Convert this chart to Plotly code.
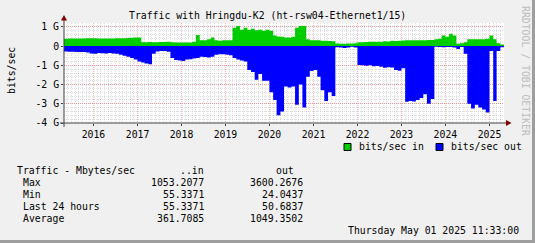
import pandas as pd
import plotly.graph_objects as go

# Monthly traffic, Gbit/s, May 2015 .. Apr 2025
in_gbps = [
    0.38, 0.40, 0.40, 0.40, 0.40, 0.40, 0.41, 0.41, 0.41, 0.40,
    0.40, 0.40, 0.40, 0.40, 0.41, 0.41, 0.41, 0.42, 0.43, 0.44,
    0.44, 0.20, 0.20, 0.21, 0.20, 0.20, 0.21, 0.21, 0.22, 0.20,
    0.18, 0.18, 0.18, 0.19, 0.19, 0.22, 0.58, 0.30, 0.30, 0.35,
    0.45, 0.30, 0.28, 0.30, 0.30, 0.30, 0.95, 1.05, 0.85, 0.95,
    0.85, 0.90, 0.82, 0.85, 0.80, 0.85, 0.80, 0.55, 0.50, 0.48,
    0.45, 0.45, 0.48, 0.95, 1.05, 1.05, 0.35, 0.30, 0.30, 0.30,
    0.28, 0.28, 0.27, 0.25, 0.13, 0.12, 0.12, 0.13, 0.14, 0.15,
    0.20, 0.20, 0.21, 0.22, 0.22, 0.23, 0.22, 0.25, 0.24, 0.28,
    0.27, 0.28, 0.29, 0.30, 0.30, 0.30, 0.30, 0.30, 0.30, 0.31,
    0.32, 0.35, 0.38, 0.55, 0.48, 0.64, 0.55, 0.12, 0.15, 0.20,
    0.35, 0.35, 0.36, 0.36, 0.36, 0.38, 0.55, 0.35, 0.15, 0.08,
]
out_gbps = [
    0.28, 0.30, 0.30, 0.31, 0.31, 0.31, 0.33, 0.38, 0.40, 0.36,
    0.37, 0.38, 0.36, 0.38, 0.40, 0.45, 0.50, 0.56, 0.62, 0.70,
    0.80, 0.86, 0.90, 0.95, 0.40, 0.28, 0.25, 0.26, 0.30, 0.62,
    0.72, 0.75, 0.78, 0.70, 0.68, 0.65, 0.62, 0.55, 0.57, 0.60,
    0.55, 0.45, 0.43, 0.42, 0.45, 0.48, 0.62, 0.70, 0.75, 0.80,
    1.25, 1.35, 1.75, 1.45, 1.80, 1.80, 2.40, 2.80, 3.60, 3.40,
    2.10, 2.15, 2.10, 3.05, 2.00, 3.20, 1.60, 1.30, 1.25, 1.60,
    2.30, 2.85, 2.40, 2.60, 0.06, 0.08, 0.10, 0.07, 0.03, 0.08,
    0.98, 1.00, 1.02, 1.00, 1.05, 1.03, 1.08, 1.13, 1.10, 1.12,
    1.25, 1.28, 1.15, 2.90, 2.85, 2.88, 2.80, 2.70, 2.50, 3.00,
    2.75, 0.03, 0.05, 0.06, 0.05, 0.05, 0.08, 0.15, 0.05, 0.40,
    3.00, 3.25, 3.05, 3.20, 3.30, 3.45, 0.25, 2.85, 0.25, 0.06,
]

y_tickvals = [-4, -3, -2, -1, 0, 1]
y_ticktext = ["-4 G", "-3 G", "-2 G", "-1 G", "0", "1 G"]

stat_rows = ["Max", "Min", "Last 24 hours", "Average"]
stat_in = ["1053.2077", "55.3371", "55.3371", "361.7085"]
stat_out = ["3600.2676", "24.0437", "50.6837", "1049.3502"]

title = "Traffic with Hringdu-K2 (ht-rsw04-Ethernet1/15)"
start = pd.Timestamp("2015-05-01 11:33")
end = pd.Timestamp("2025-05-01 11:33")

months = pd.date_range("2015-05-01", periods=len(in_gbps), freq="MS")
xs = list(months) + [end]
in_y = list(in_gbps) + [in_gbps[-1]]
out_y = [-v for v in out_gbps] + [-out_gbps[-1]]

W, H = 535, 243
L, R, T, B = 64, 31, 23, 120
PW, PH = W - L - R, H - T - B
FONT = "DejaVu Sans Mono"
FS = 9.8


def px(X):
    return (X - L) / PW


def py(Y):
    return (H - B - Y) / PH


fig = go.Figure()
fig.add_trace(go.Scatter(x=xs, y=in_y, mode="lines", line=dict(width=0, shape="hv"),
                         fill="tozeroy", fillcolor="#00CC00", name="bits/sec in",
                         showlegend=False, hoverinfo="skip"))
fig.add_trace(go.Scatter(x=xs, y=out_y, mode="lines", line=dict(width=0, shape="hv"),
                         fill="tozeroy", fillcolor="#0000FF", name="bits/sec out",
                         showlegend=False, hoverinfo="skip"))

major_grid = "rgba(255,0,0,0.32)"
minor_grid = "rgba(140,140,140,0.28)"

fig.update_layout(
    width=W, height=H, autosize=False,
    margin=dict(l=L, r=R, t=T, b=B, pad=0),
    paper_bgcolor="#F0F0F0", plot_bgcolor="#FFFFFF",
    font=dict(family=FONT, size=FS, color="#000000"),
    xaxis=dict(
        type="date", range=[start, end], tickformat="%Y", dtick="M12",
        tick0="2016-01-01", showgrid=True, gridcolor=major_grid, griddash="1px,1px",
        gridwidth=1, ticks="outside", ticklen=2, tickcolor="#404040",
        showline=False, zeroline=False, fixedrange=True,
        tickfont=dict(family=FONT, size=FS, color="#000000"),
        minor=dict(dtick="M1", tick0="2015-01-01", showgrid=True,
                   gridcolor=minor_grid, griddash="1px,1px", ticks=""),
    ),
    yaxis=dict(
        range=[-4, 1.2], tickvals=y_tickvals, ticktext=y_ticktext,
        showgrid=True, gridcolor=major_grid, griddash="1px,1px", gridwidth=1,
        ticks="outside", ticklen=2, tickcolor="#404040",
        showline=False, zeroline=False, fixedrange=True,
        tickfont=dict(family=FONT, size=FS, color="#000000"),
        minor=dict(dtick=0.2, tick0=0, showgrid=True, gridcolor=minor_grid,
                   griddash="1px,1px", ticks=""),
    ),
)

shapes = []
axis_col = "#404040"
arrow_col = "#800000"
# axes
shapes.append(dict(type="line", xref="paper", yref="paper", x0=px(60), x1=px(508),
                   y0=0, y1=0, line=dict(color=axis_col, width=1), layer="above"))
shapes.append(dict(type="line", xref="paper", yref="paper", x0=0, x1=0,
                   y0=py(127), y1=py(19), line=dict(color=axis_col, width=1), layer="above"))
# arrows
shapes.append(dict(type="path", xref="paper", yref="paper",
                   path=f"M {px(506)} {py(120)} L {px(506)} {py(126)} L {px(511.5)} {py(123)} Z",
                   fillcolor=arrow_col, line=dict(width=0), layer="above"))
shapes.append(dict(type="path", xref="paper", yref="paper",
                   path=f"M {px(61)} {py(20.5)} L {px(67)} {py(20.5)} L {px(64)} {py(15)} Z",
                   fillcolor=arrow_col, line=dict(width=0), layer="above"))
# frame shading
shapes.append(dict(type="rect", xref="paper", yref="paper", x0=px(532), x1=px(536),
                   y0=py(244), y1=py(-1), fillcolor="#9E9E9E", line=dict(width=0)))
shapes.append(dict(type="rect", xref="paper", yref="paper", x0=px(-1), x1=px(536),
                   y0=py(244), y1=py(240), fillcolor="#9E9E9E", line=dict(width=0)))
# legend swatches
for x0, col in [(344, "#00CC00"), (436, "#0000FF")]:
    shapes.append(dict(type="rect", xref="paper", yref="paper", x0=px(x0), x1=px(x0 + 7),
                       y0=py(150.5), y1=py(143.5), fillcolor=col,
                       line=dict(color="#000000", width=1)))
fig.update_layout(shapes=shapes)

ann = []


def text(s, X, Y, xanchor="left", size=FS, color="#000000", angle=0):
    ann.append(dict(text=s, x=px(X), y=py(Y), xref="paper", yref="paper",
                    xanchor=xanchor, yanchor="middle", showarrow=False,
                    font=dict(family=FONT, size=size, color=color), textangle=angle))


text(title, 267.5, 15.3, "center")
text("bits/sec", 11, 71, "center", angle=-90)
text("RRDTOOL / TOBI OETIKER", 526, 71, "center", color="#BDBDBD", angle=90)
text("bits/sec in", 357, 146.7)
text("bits/sec out", 449, 146.7)
text("Traffic - Mbytes/sec", 15, 170.7)
text("..in", 206, 170.7, "right")
text("out", 295.5, 170.7, "right")
for i, name in enumerate(stat_rows):
    yy = 182.5 + 12.1 * i
    text(name, 21, yy)
    text(stat_in[i], 206, yy, "right")
    text(stat_out[i], 304.5, yy, "right")
text("Thursday May 01 2025 11:33:00", 521, 230.5, "right")
fig.update_layout(annotations=ann)

fig.write_html("out.html")
